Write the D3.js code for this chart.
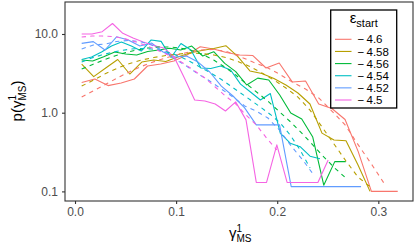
<!DOCTYPE html>
<html>
<head>
<meta charset="utf-8">
<script src="https://cdn.jsdelivr.net/npm/d3@7"></script>
<style>
body { margin: 0; background: #fff; }
text { font-family: "Liberation Sans", Arial, sans-serif; }
</style>
</head>
<body>
<script>
const width = 415;
const height = 248;

// epsilon_start levels, ggplot default hue palette
const startLevels = ["\u2212\u20094.6", "\u2212\u20094.58", "\u2212\u20094.56", "\u2212\u20094.54", "\u2212\u20094.52", "\u2212\u20094.5"];
const colors = ["#F8766D", "#B79F00", "#00BA38", "#00BFC4", "#619CFF", "#F564E3"];

// 25 bins per series, from the first bin centre to each series' last one
const nBins = 25;
const gammaMin = 0.0066;
const gammaMax = [0.3192, 0.2918, 0.2678, 0.2423, 0.2829, 0.2504];

// observed densities (solid)
const pRed    = [2.42, 2.68, 2.21, 2.38, 2.68, 3.92, 4.16, 4.54, 5.41, 6.9, 6.45, 5.82, 5.41, 5.32, 3.7, 4.28, 2.45, 2.53, 1.29, 1.13, 0.82, 0.32, 0.1, 0.1, 0.1];
const pYellow = [4.15, 2.87, 3.69, 4.74, 3.1, 4.4, 4.67, 4.47, 5.1, 5.73, 6.17, 6.54, 7.1, 5.15, 3.39, 3.15, 2.72, 2.25, 1.78, 1.29, 0.55, 0.45, 0.44, 0.217, 0.1];
const pGreen  = [4.67, 4.54, 5.15, 5.9, 5.56, 5.41, 6.0, 6.26, 6.58, 6.26, 7.03, 5.25, 5.95, 4.24, 3.32, 2.25, 2.75, 2.6, 1.68, 0.99, 0.83, 0.49, 0.12, 0.239, 0.239];
const pCyan   = [4.74, 5.1, 5.9, 7.03, 7.9, 7.03, 6.07, 8.4, 8.05, 5.02, 7.58, 6.26, 3.7, 3.65, 3.92, 3.49, 2.31, 1.83, 1.45, 1.75, 0.55, 0.41, 0.37, 0.28, 0.26];
const pBlue   = [7.6, 8.0, 6.26, 9.22, 8.39, 7.03, 7.68, 5.9, 5.1, 5.25, 4.4, 3.29, 2.18, 1.63, 1.15, 0.7, 0.7, 0.7, 0.115, 0.115, 0.115, 0.115, 0.115, 0.115, 0.115];
const pPink   = [10.0, 10.0, 10.7, 13.6, 10.2, 8.9, 7.9, 7.14, 6.63, 5.1, 2.76, 1.45, 1.41, 1.29, 1.05, 1.37, 0.81, 0.13, 0.13, 0.39, 0.13, 0.13, 0.13, 0.13, 0.25];

// fitted densities (dashed)
const fitRed    = [1.58, 1.94, 2.38, 2.93, 3.54, 4.16, 4.75, 5.32, 5.82, 6.26, 6.35, 6.0, 5.18, 4.4, 3.8, 3.1, 2.45, 2.0, 1.54, 1.05, 0.7, 0.39, 0.223, 0.124];
const fitYellow = [2.18, 2.6, 3.15, 3.69, 4.22, 4.67, 5.03, 5.32, 5.56, 5.73, 5.64, 5.41, 5.03, 4.47, 3.86, 3.19, 2.6, 2.06, 1.58, 1.08, 0.66, 0.4, 0.243, 0.152, 0.115];
const fitGreen  = [3.59, 4.1, 4.67, 5.25, 5.82, 6.26, 6.63, 6.84, 6.84, 6.63, 6.17, 5.5, 4.67, 3.8, 3.01, 2.31, 1.78, 1.37, 1.02, 0.76, 0.55, 0.39, 0.274, 0.198, 0.148];
const fitCyan   = [4.4, 4.95, 5.41, 5.82, 6.17, 6.45, 6.54, 6.45, 6.17, 5.73, 5.1, 4.4, 3.75, 3.19, 2.68, 2.18, 1.78, 1.45, 1.18, 0.95, 0.74, 0.52, 0.336, 0.198];
const fitBlue   = [6.45, 7.24, 7.45, 8.03, 8.27, 8.03, 7.24, 6.1, 4.8, 3.92, 3.1, 2.53, 2.0, 1.58, 1.22, 1.05, 0.855, 0.6, 0.377, 0.25, 0.157];
const fitPink   = [9.15, 9.42, 9.42, 9.3, 8.86, 8.12, 7.35, 6.56, 5.73, 5.02, 4.16, 3.39, 2.76, 2.12, 1.63, 1.29, 0.935, 0.7, 0.477, 0.336];

const xTicks = [0, 0.1, 0.2, 0.3];
const yTicks = [0.1, 1, 10];

const observed = [pRed, pYellow, pGreen, pCyan, pBlue, pPink];
const fitted = [fitRed, fitYellow, fitGreen, fitCyan, fitBlue, fitPink];

const panel = { left: 65, right: 413, top: 2, bottom: 201 };

const svg = d3.select("body")
  .append("svg")
  .attr("width", width)
  .attr("height", height);

const x = d3.scaleLinear()
  .domain([-0.0099, 0.3343])
  .range([panel.left, panel.right]);

const y = d3.scaleLog()
  .domain([0.0755, 25.5])
  .range([panel.bottom, panel.top]);

function binCentres(k, n) {
  const step = (gammaMax[k] - gammaMin) / (nBins - 1);
  return d3.range(n).map(i => gammaMin + i * step);
}

const line = d3.line()
  .x(d => x(d[0]))
  .y(d => y(d[1]));

const plot = svg.append("g");

observed.forEach((vals, k) => {
  const xs = binCentres(k, vals.length);
  plot.append("path")
    .attr("fill", "none")
    .attr("stroke", colors[k])
    .attr("stroke-width", 1.1)
    .attr("stroke-linejoin", "round")
    .attr("d", line(vals.map((v, i) => [xs[i], v])));
});

fitted.forEach((vals, k) => {
  const xs = binCentres(k, vals.length);
  plot.append("path")
    .attr("fill", "none")
    .attr("stroke", colors[k])
    .attr("stroke-width", 1.1)
    .attr("stroke-dasharray", "4.3,4.3")
    .attr("d", line(vals.map((v, i) => [xs[i], v])));
});

// panel border
svg.append("rect")
  .attr("x", panel.left)
  .attr("y", panel.top)
  .attr("width", panel.right - panel.left)
  .attr("height", panel.bottom - panel.top)
  .attr("fill", "none")
  .attr("stroke", "#333")
  .attr("stroke-width", 1.1);

// axes
const xAxis = svg.append("g")
  .attr("transform", `translate(0,${panel.bottom})`)
  .call(d3.axisBottom(x).tickValues(xTicks).tickFormat(d3.format(".1f")).tickSizeOuter(0).tickSize(3).tickPadding(3));

const yAxis = svg.append("g")
  .attr("transform", `translate(${panel.left},0)`)
  .call(d3.axisLeft(y).tickValues(yTicks).tickFormat(d3.format(".1f")).tickSizeOuter(0).tickSize(3).tickPadding(4));

[xAxis, yAxis].forEach(a => {
  a.select(".domain").remove();
  a.selectAll(".tick line").attr("stroke", "#333").attr("stroke-width", 1.1);
  a.selectAll(".tick text")
    .attr("fill", "#4d4d4d")
    .style("font-size", "12px")
    .style("font-family", "'Liberation Sans', Arial, sans-serif");
});

// x axis title: gamma^1_MS
const xt = svg.append("text")
  .attr("x", 229)
  .attr("y", 238)
  .attr("fill", "#000")
  .style("font-size", "15px");
xt.append("tspan").text("\u03b3");
xt.append("tspan").attr("dy", -6).style("font-size", "10px").text("1");
xt.append("tspan").attr("dx", -5.6).attr("dy", 10).style("font-size", "10px").text("MS");

// y axis title: p(gamma^1_MS)
const yt = svg.append("text")
  .attr("transform", "translate(22,101) rotate(-90)")
  .attr("text-anchor", "middle")
  .attr("fill", "#000")
  .style("font-size", "15px");
yt.append("tspan").text("p(\u03b3");
yt.append("tspan").attr("dy", -6).style("font-size", "10px").text("1");
yt.append("tspan").attr("dx", -5.6).attr("dy", 10).style("font-size", "10px").text("MS");
yt.append("tspan").attr("dy", -4).text(")");

// legend
const legend = svg.append("g");
legend.append("rect")
  .attr("x", 330.7)
  .attr("y", 10)
  .attr("width", 66)
  .attr("height", 98)
  .attr("fill", "#fff")
  .attr("stroke", "#000")
  .attr("stroke-width", 1.3);

const lt = legend.append("text")
  .attr("x", 363.7)
  .attr("y", 23)
  .attr("text-anchor", "middle")
  .style("font-size", "15px");
lt.append("tspan").text("\u03b5");
lt.append("tspan").attr("dy", 4).style("font-size", "11px").text("start");

const rowY = d3.scalePoint().domain(startLevels).range([39.3, 100]);

startLevels.forEach((lab, k) => {
  legend.append("line")
    .attr("x1", 335).attr("x2", 351.5)
    .attr("y1", rowY(lab)).attr("y2", rowY(lab))
    .attr("stroke", colors[k])
    .attr("stroke-width", 1.1);
  legend.append("text")
    .attr("x", 357.5)
    .attr("y", rowY(lab) + 4.1)
    .style("font-size", "11.5px")
    .text(lab);
});
</script>
</body>
</html>
